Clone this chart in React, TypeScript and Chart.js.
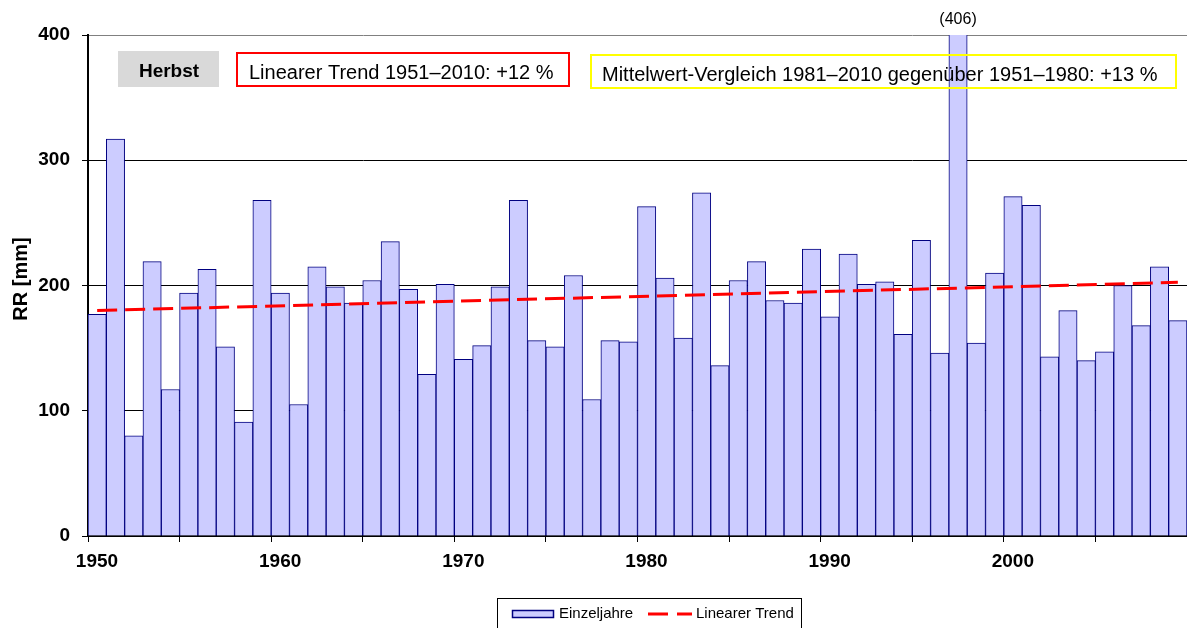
import React, { useEffect, useRef } from "react";
import { Chart, registerables } from "chart.js";

Chart.register(...registerables);

// ---- data ----
const years = [
  1950, 1951, 1952, 1953, 1954, 1955, 1956, 1957, 1958, 1959,
  1960, 1961, 1962, 1963, 1964, 1965, 1966, 1967, 1968, 1969,
  1970, 1971, 1972, 1973, 1974, 1975, 1976, 1977, 1978, 1979,
  1980, 1981, 1982, 1983, 1984, 1985, 1986, 1987, 1988, 1989,
  1990, 1991, 1992, 1993, 1994, 1995, 1996, 1997, 1998, 1999,
  2000, 2001, 2002, 2003, 2004, 2005, 2006, 2007, 2008, 2009,
];
const einzeljahre = [
  177, 317, 80, 219, 117, 194, 213, 151, 91, 268,
  194, 105, 215, 199, 186, 204, 235, 197, 129, 201,
  141, 152, 199, 268, 156, 151, 208, 109, 156, 155,
  263, 206, 158, 274, 136, 204, 219, 188, 186, 229,
  175, 225, 201, 203, 161, 236, 146, 406, 154, 210,
  271, 264, 143, 180, 140, 147, 200, 168, 215, 172,
];
const trendYears = [1950, 2009];
const trendValues = [180, 202.5];

const xMin = 1950;
const xMax = 2010;
const xStep = 5;
const xLabelStep = 10;
const yMin = 0;
const yMax = 400;
const yStep = 100;

const seriesNames = ["Einzeljahre", "Linearer Trend"];
const yTitle = "RR [mm]";
const seasonText = "Herbst";
const trendText = "Linearer Trend 1951\u20132010: +12 %";
const meanText = "Mittelwert-Vergleich 1981\u20132010 gegen\u00fcber 1951\u20131980: +13 %";

const FONT = "'Liberation Sans', Arial, Helvetica, sans-serif";
const BAR_FILL = "#ccccff";
const BAR_EDGE = "#000080";
const TREND_COLOR = "#ff0000";

const overlayPlugin = {
  id: "overlay",
  afterDatasetsDraw(chart: any) {
    const ctx = chart.ctx as CanvasRenderingContext2D;
    const area = chart.chartArea;
    ctx.save();
    // season box
    ctx.fillStyle = "#d9d9d9";
    ctx.fillRect(118, 51, 101, 36);
    ctx.fillStyle = "#000";
    ctx.font = `bold 19px ${FONT}`;
    ctx.textAlign = "center";
    ctx.textBaseline = "alphabetic";
    ctx.fillText(seasonText, 169, 77);

    // trend box (red)
    ctx.strokeStyle = "#ff0000";
    ctx.lineWidth = 2;
    ctx.strokeRect(237, 53, 332, 33);
    ctx.font = `20px ${FONT}`;
    ctx.textAlign = "left";
    ctx.fillText(trendText, 249, 79);

    // mean comparison box (yellow)
    ctx.strokeStyle = "#ffff00";
    ctx.strokeRect(591, 55, 585, 33);
    ctx.fillText(meanText, 602, 80.5);

    // out of range value labels
    const meta = chart.getDatasetMeta(0);
    ctx.font = `16px ${FONT}`;
    ctx.textAlign = "center";
    einzeljahre.forEach((v, i) => {
      if (v > yMax) {
        const el = meta.data[i];
        ctx.fillText(`(${v})`, el.x, area.top - 11);
      }
    });
    ctx.restore();
  },
  afterDraw(chart: any) {
    const ctx = chart.ctx as CanvasRenderingContext2D;
    ctx.save();
    // y axis title
    ctx.translate(26.5, 279);
    ctx.rotate(-Math.PI / 2);
    ctx.font = `bold 20px ${FONT}`;
    ctx.fillStyle = "#000";
    ctx.textAlign = "center";
    ctx.textBaseline = "alphabetic";
    ctx.fillText(yTitle, 0, 0);
    ctx.restore();

    // legend
    ctx.save();
    ctx.strokeStyle = "#000";
    ctx.lineWidth = 1;
    ctx.strokeRect(497.5, 598.5, 304, 40);
    ctx.fillStyle = BAR_FILL;
    ctx.fillRect(512, 610, 42, 8);
    ctx.strokeStyle = BAR_EDGE;
    ctx.lineWidth = 1.5;
    ctx.strokeRect(512.5, 610.5, 41, 7);
    ctx.fillStyle = "#000";
    ctx.font = `15px ${FONT}`;
    ctx.textAlign = "left";
    ctx.textBaseline = "middle";
    ctx.fillText(seriesNames[0], 559, 614);
    ctx.strokeStyle = TREND_COLOR;
    ctx.lineWidth = 3;
    ctx.beginPath();
    ctx.moveTo(648, 614);
    ctx.lineTo(668, 614);
    ctx.moveTo(677, 614);
    ctx.lineTo(692, 614);
    ctx.stroke();
    ctx.fillText(seriesNames[1], 696, 614);
    ctx.restore();
  },
};

export default function App() {
  const canvasRef = useRef<HTMLCanvasElement | null>(null);

  useEffect(() => {
    const canvas = canvasRef.current;
    if (!canvas) return;
    // each year's bar spans [year, year + 1]
    const barData = years.map((yr, i) => ({ x: yr + 0.5, y: einzeljahre[i] }));
    const trendData = trendYears.map((yr, i) => ({ x: yr + 0.5, y: trendValues[i] }));

    const chart = new Chart(canvas, {
      type: "bar",
      data: {
        datasets: [
          {
            type: "bar",
            label: seriesNames[0],
            data: barData,
            backgroundColor: BAR_FILL,
            borderColor: BAR_EDGE,
            borderWidth: 1,
            barPercentage: 1,
            categoryPercentage: 1,
            order: 1,
          } as any,
          {
            type: "line",
            label: seriesNames[1],
            data: trendData,
            borderColor: TREND_COLOR,
            borderWidth: 3,
            borderDash: [20, 8],
            pointRadius: 0,
            pointHoverRadius: 0,
            fill: false,
            tension: 0,
            order: 0,
          } as any,
        ],
      },
      options: {
        responsive: false,
        animation: false,
        devicePixelRatio: 1,
        layout: { autoPadding: false, padding: { top: 35, left: 0, right: 0, bottom: 0 } },
        plugins: {
          legend: { display: false },
          tooltip: { enabled: false },
          title: { display: false },
        },
        scales: {
          x: {
            type: "linear",
            min: xMin,
            max: xMax,
            offset: false,
            grid: {
              display: true,
              drawOnChartArea: false,
              drawTicks: true,
              tickLength: 6,
              tickColor: "#000",
              color: "#000",
              offset: false,
            },
            border: { display: true, color: "#000", width: 2 },
            ticks: {
              stepSize: xStep,
              autoSkip: false,
              maxRotation: 0,
              minRotation: 0,
              padding: 8,
              labelOffset: 9,
              color: "#000",
              font: { family: FONT, size: 19, weight: "bold" },
              callback: (v: any) => {
                const n = Number(v);
                return n % xLabelStep === 0 && n < xMax ? String(n) : "";
              },
            },
            afterFit: (s: any) => {
              s.height = 92;
              s.paddingRight = 0;
              s.paddingLeft = 0;
            },
          },
          y: {
            type: "linear",
            min: yMin,
            max: yMax,
            grid: {
              display: true,
              drawTicks: true,
              tickLength: 6,
              tickColor: "#000",
              lineWidth: 1,
              color: (c: any) => (c.tick && c.tick.value === yMax ? "#808080" : "#000"),
            },
            border: { display: true, color: "#000", width: 2 },
            ticks: {
              stepSize: yStep,
              padding: 12,
              color: "#000",
              font: { family: FONT, size: 19, weight: "bold" },
            },
            afterFit: (s: any) => {
              s.width = 88;
            },
          },
        },
      },
      plugins: [overlayPlugin],
    });
    return () => chart.destroy();
  }, []);

  return (
    <div style={{ position: "absolute", left: 0, top: 0, width: 1187, height: 628, overflow: "hidden", background: "#fff" }}>
      <canvas ref={canvasRef} width={1187} height={628} style={{ display: "block" }} />
    </div>
  );
}
